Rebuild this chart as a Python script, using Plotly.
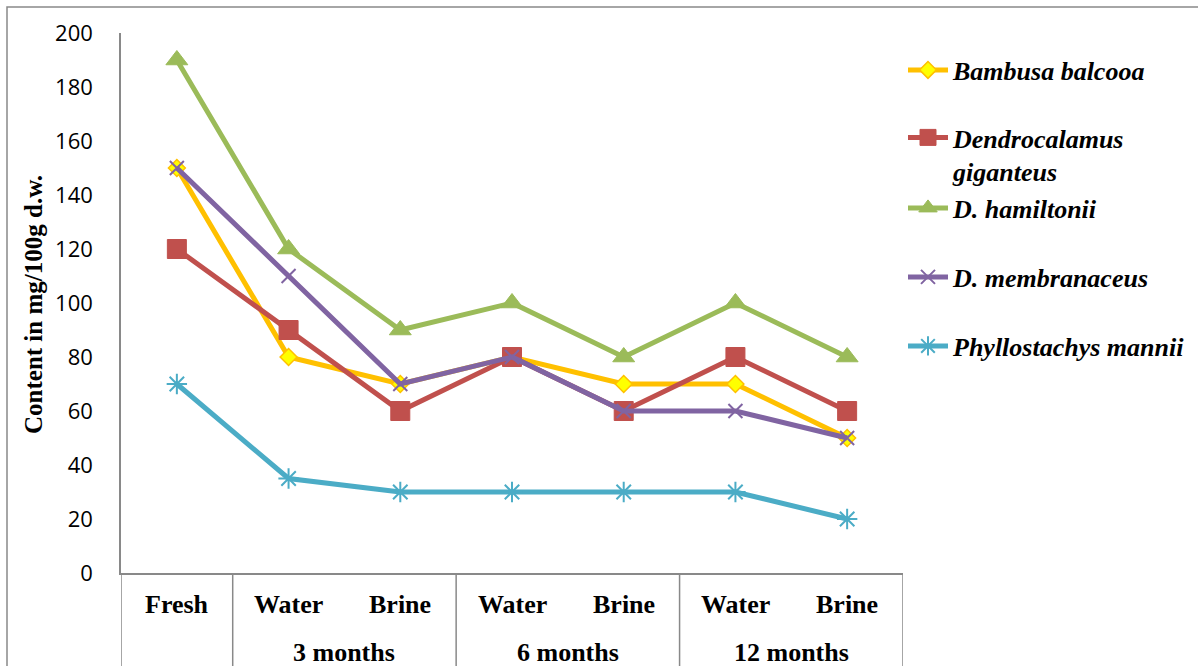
import plotly.graph_objects as go

# ---- data ----
categories = ["Fresh", "Water", "Brine", "Water", "Brine", "Water", "Brine"]
groups = ["", "3 months", "6 months", "12 months"]
group_sizes = [1, 2, 2, 2]

series_names = ["Bambusa balcooa", "Dendrocalamus<br>giganteus", "D. hamiltonii",
                "D. membranaceus", "Phyllostachys mannii"]
bambusa_balcooa = [150, 80, 70, 80, 70, 70, 50]
dendrocalamus_giganteus = [120, 90, 60, 80, 60, 80, 60]
d_hamiltonii = [190, 120, 90, 100, 80, 100, 80]
d_membranaceus = [150, 110, 70, 80, 60, 60, 50]
phyllostachys_mannii = [70, 35, 30, 30, 30, 30, 20]
series_values = [bambusa_balcooa, dendrocalamus_giganteus, d_hamiltonii,
                 d_membranaceus, phyllostachys_mannii]

y_ticks = [0, 20, 40, 60, 80, 100, 120, 140, 160, 180, 200]

# ---- styles ----
line_colors = ["#FFC000", "#C0504D", "#9BBB59", "#8064A2", "#4BACC6"]
marker_symbols = ["diamond", "square", "triangle-up", "x-thin", "asterisk"]
marker_fills = ["#FFFF00", "#C0504D", "#9BBB59", "#8064A2", "#4BACC6"]
marker_lines = ["#FFC000", "#C0504D", "#9BBB59", "#8064A2", "#4BACC6"]
marker_sizes = [13, 19, 19, 14, 17]
marker_lw = [1.5, 1, 1, 2, 2]

W, H = 1198, 666
L, R, T, B = 121, 295, 33, 93
PW, PH = W - L - R, H - T - B


def px_x(p):
    return (p - L) / PW


def px_y(p):
    return (H - B - p) / PH


x_idx = list(range(len(categories)))
legend_ids = ["legend", "legend2", "legend3", "legend4", "legend5"]
legend_y_px = [70, 154.5, 208, 277, 346]

fig = go.Figure()
for i, (name, vals) in enumerate(zip(series_names, series_values)):
    fig.add_trace(go.Scatter(
        x=x_idx, y=vals, name=name, mode="lines+markers",
        line=dict(color=line_colors[i], width=5),
        marker=dict(symbol=marker_symbols[i], size=marker_sizes[i], color=marker_fills[i],
                    line=dict(color=marker_lines[i], width=marker_lw[i])),
        legend=legend_ids[i], cliponaxis=False,
    ))

legend_font = dict(family="Liberation Serif", size=26, color="black", weight="bold", style="italic")
legend_layout = {}
for i, lid in enumerate(legend_ids):
    legend_layout[lid] = dict(
        x=px_x(903), y=px_y(legend_y_px[i]), xanchor="left", yanchor="middle",
        font=legend_font, bgcolor="rgba(0,0,0,0)", borderwidth=0,
        valign="top", itemwidth=40,
    )

annotations = []
cat_font = dict(family="Liberation Serif", size=26, color="black", weight="bold")
for i, c in enumerate(categories):
    annotations.append(dict(x=i, y=px_y(604), xref="x", yref="paper", text=c, showarrow=False,
                            font=cat_font, xanchor="center", yanchor="middle"))
shapes = []
start = 0
bounds = [-0.5]
for g, n in zip(groups, group_sizes):
    center = start + (n - 1) / 2
    if g:
        annotations.append(dict(x=center, y=px_y(652), xref="x", yref="paper", text=g,
                                showarrow=False, font=cat_font, xanchor="center", yanchor="middle"))
    start += n
    bounds.append(start - 0.5)
for b in bounds:
    shapes.append(dict(type="line", xref="x", yref="paper", x0=b, x1=b, y0=0, y1=px_y(H + 10),
                       line=dict(color="#898989", width=1.5)))

annotations.append(dict(x=px_x(33), y=px_y(305), xref="paper", yref="paper",
                        text="Content in mg/100g d.w.", textangle=-90, showarrow=False,
                        font=dict(family="Liberation Serif", size=25, color="black", weight="bold"),
                        xanchor="center", yanchor="middle"))

# outer border
shapes.append(dict(type="rect", xref="paper", yref="paper", x0=px_x(7), y0=px_y(H + 20),
                   x1=px_x(W + 20), y1=px_y(7), line=dict(color="#898989", width=1.5),
                   fillcolor="rgba(0,0,0,0)"))

fig.update_layout(
    width=W, height=H,
    margin=dict(l=L, r=R, t=T, b=B, autoexpand=False),
    paper_bgcolor="white", plot_bgcolor="white",
    showlegend=True,
    xaxis=dict(range=[-0.5, len(categories) - 0.5], showticklabels=False, showgrid=False,
               zeroline=False, showline=True, linecolor="#898989", linewidth=1.5, ticks=""),
    yaxis=dict(range=[0, 200], tickvals=y_ticks, showgrid=False, zeroline=False,
               showline=True, linecolor="#898989", linewidth=1.5, ticks="",
               ticklabelstandoff=22,
               tickfont=dict(family="Open Sans", size=22, color="black")),
    annotations=annotations,
    shapes=shapes,
    **legend_layout,
)

fig.write_html("out.html", config={"displayModeBar": False},
               post_script="document.body.style.margin='0px';document.body.style.overflow='hidden';")
